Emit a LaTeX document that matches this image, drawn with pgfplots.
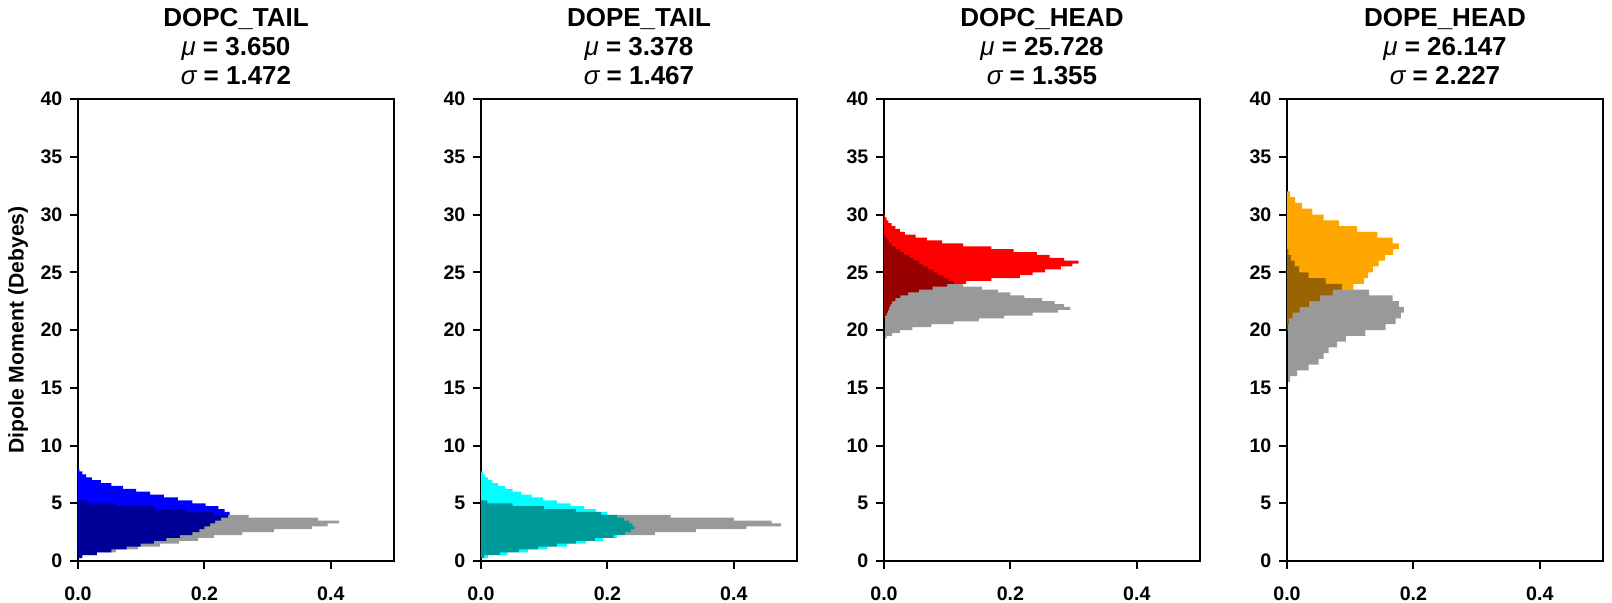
\documentclass[border=0pt]{standalone}
\usepackage{fontspec}
\setmainfont{Liberation Sans}
\usepackage{pgfplots}
\usepackage{pgfplotstable}
\pgfplotsset{compat=1.18}
\definecolor{cBlue}{RGB}{0,0,255}
\definecolor{cCyan}{RGB}{0,255,255}
\definecolor{cRed}{RGB}{255,0,0}
\definecolor{cOrange}{RGB}{255,165,0}

% bin lengths (v) at bin lower edges (y); drawn as steps
\pgfplotstableread{
v y
0 0.25
0.007 0.25
0.030 0.50
0.053 0.75
0.077 1.00
0.099 1.25
0.120 1.50
0.140 1.75
0.161 2.00
0.181 2.25
0.192 2.50
0.200 2.75
0.209 3.00
0.217 3.25
0.226 3.50
0.237 3.75
0.240 4.00
0.232 4.25
0.222 4.50
0.202 4.75
0.181 5.00
0.158 5.25
0.136 5.50
0.114 5.75
0.092 6.00
0.071 6.25
0.053 6.50
0.036 6.75
0.022 7.00
0.013 7.25
0.007 7.50
0.002 7.75
0 8.00
}\dopcTail
\pgfplotstableread{
v y
0 0.25
0.006 0.25
0.030 0.50
0.060 0.75
0.095 1.00
0.130 1.25
0.160 1.50
0.190 1.75
0.215 2.00
0.260 2.25
0.310 2.50
0.370 2.75
0.395 3.00
0.413 3.25
0.380 3.50
0.270 3.75
0.215 4.00
0.170 4.25
0.120 4.50
0.060 4.75
0.015 5.00
0 5.25
}\dopcTailRef
\pgfplotstableread{
v y
0 0.25
0.011 0.25
0.042 0.50
0.074 0.75
0.105 1.00
0.136 1.25
0.166 1.50
0.193 1.75
0.215 2.00
0.228 2.25
0.237 2.50
0.243 2.75
0.240 3.00
0.234 3.25
0.226 3.50
0.215 3.75
0.200 4.00
0.182 4.25
0.163 4.50
0.142 4.75
0.120 5.00
0.098 5.25
0.080 5.50
0.064 5.75
0.050 6.00
0.038 6.25
0.027 6.50
0.018 6.75
0.011 7.00
0.006 7.25
0.003 7.50
0 7.75
}\dopeTail
\pgfplotstableread{
v y
0 0.25
0.005 0.25
0.030 0.50
0.060 0.75
0.090 1.00
0.120 1.25
0.150 1.50
0.180 1.75
0.210 2.00
0.275 2.25
0.340 2.50
0.420 2.75
0.475 3.00
0.460 3.25
0.400 3.50
0.300 3.75
0.190 4.00
0.150 4.25
0.100 4.50
0.050 4.75
0.010 5.00
0 5.25
}\dopeTailRef
\pgfplotstableread{
v y
0 21.00
0.001 21.00
0.004 21.25
0.006 21.50
0.008 21.75
0.010 22.00
0.013 22.25
0.018 22.50
0.026 22.75
0.038 23.00
0.055 23.25
0.077 23.50
0.100 23.75
0.130 24.00
0.170 24.25
0.215 24.50
0.235 24.75
0.255 25.00
0.280 25.25
0.298 25.50
0.308 25.75
0.285 26.00
0.262 26.25
0.242 26.50
0.205 26.75
0.170 27.00
0.125 27.25
0.092 27.50
0.068 27.75
0.050 28.00
0.033 28.25
0.025 28.50
0.018 28.75
0.012 29.00
0.007 29.25
0.004 29.50
0.001 29.75
0 30.00
}\dopcHead
\pgfplotstableread{
v y
0 19.00
0.001 19.00
0.004 19.25
0.013 19.50
0.025 19.75
0.045 20.00
0.075 20.25
0.110 20.50
0.150 20.75
0.190 21.00
0.235 21.25
0.275 21.50
0.295 21.75
0.285 22.00
0.270 22.25
0.250 22.50
0.222 22.75
0.200 23.00
0.180 23.25
0.155 23.50
0.125 23.75
0.110 24.00
0.102 24.25
0.095 24.50
0.085 24.75
0.078 25.00
0.070 25.25
0.062 25.50
0.055 25.75
0.047 26.00
0.040 26.25
0.032 26.50
0.025 26.75
0.018 27.00
0.012 27.25
0.008 27.50
0.005 27.75
0.002 28.00
0 28.25
}\dopcHeadRef
\pgfplotstableread{
v y
0 20.0
0.001 20.0
0.003 20.5
0.009 21.0
0.020 21.5
0.035 22.0
0.052 22.5
0.072 23.0
0.105 23.5
0.122 24.0
0.128 24.5
0.136 25.0
0.145 25.5
0.155 26.0
0.168 26.5
0.177 27.0
0.167 27.5
0.143 28.0
0.111 28.5
0.082 29.0
0.058 29.5
0.040 30.0
0.024 30.5
0.013 31.0
0.005 31.5
0 32.0
}\dopeHead
\pgfplotstableread{
v y
0 15.5
0.005 15.5
0.016 16.0
0.034 16.5
0.050 17.0
0.058 17.5
0.066 18.0
0.079 18.5
0.093 19.0
0.124 19.5
0.156 20.0
0.172 20.5
0.180 21.0
0.185 21.5
0.177 22.0
0.167 22.5
0.130 23.0
0.087 23.5
0.061 24.0
0.034 24.5
0.019 25.0
0.012 25.5
0.006 26.0
0.002 26.5
0 27.0
}\dopeHeadRef

\pgfplotsset{
  panel/.style={
    scale only axis, width=158pt, height=231pt,
    anchor=south west,
    xmin=0, xmax=0.5, ymin=0, ymax=40,
    xtick={0,0.2,0.4}, xticklabels={0.0,0.2,0.4},
    ytick={0,5,10,15,20,25,30,35,40},
    yticklabels={0,5,10,15,20,25,30,35,40},
    tick pos=left, tick align=outside,
    major tick length=4pt,
    line width=1pt,
    every tick/.style={black, line width=1pt},
    ticklabel style={font=\fontsize{9.8}{11}\selectfont\bfseries},
    xticklabel style={yshift=-5pt},
    title style={font=\fontsize{13}{14.5}\selectfont\bfseries, align=center,
      inner sep=0pt, anchor=south, at={(axis description cs:0.5,1)}, yshift=0.5pt},
  },
  hist/.style={const plot mark right, draw=none, fill=#1},
  ref/.style={const plot mark right, draw=none, fill=black, fill opacity=0.4},
}

\begin{document}
\begin{tikzpicture}
\path[use as bounding box] (0,0) rectangle (806pt,301pt);

\begin{axis}[panel, at={(39pt,20.5pt)},
  title={DOPC\_TAIL\\{\mdseries\itshape μ} = 3.650\\{\mdseries\itshape σ} = 1.472},
  ylabel={Dipole Moment (Debyes)},
  ylabel style={font=\fontsize{10.6}{12}\selectfont\bfseries,
    at={(axis description cs:-0.172,0.5)}, anchor=base}]
\addplot[hist=cBlue] table[x=v,y=y] {\dopcTail};
\addplot[ref] table[x=v,y=y] {\dopcTailRef};
\end{axis}

\begin{axis}[panel, at={(240.5pt,20.5pt)},
  title={DOPE\_TAIL\\{\mdseries\itshape μ} = 3.378\\{\mdseries\itshape σ} = 1.467}]
\addplot[hist=cCyan] table[x=v,y=y] {\dopeTail};
\addplot[ref] table[x=v,y=y] {\dopeTailRef};
\end{axis}

\begin{axis}[panel, at={(442pt,20.5pt)},
  title={DOPC\_HEAD\\{\mdseries\itshape μ} = 25.728\\{\mdseries\itshape σ} = 1.355}]
\addplot[hist=cRed] table[x=v,y=y] {\dopcHead};
\addplot[ref] table[x=v,y=y] {\dopcHeadRef};
\end{axis}

\begin{axis}[panel, at={(643.5pt,20.5pt)},
  title={DOPE\_HEAD\\{\mdseries\itshape μ} = 26.147\\{\mdseries\itshape σ} = 2.227}]
\addplot[hist=cOrange] table[x=v,y=y] {\dopeHead};
\addplot[ref] table[x=v,y=y] {\dopeHeadRef};
\end{axis}
\end{tikzpicture}
\end{document}
